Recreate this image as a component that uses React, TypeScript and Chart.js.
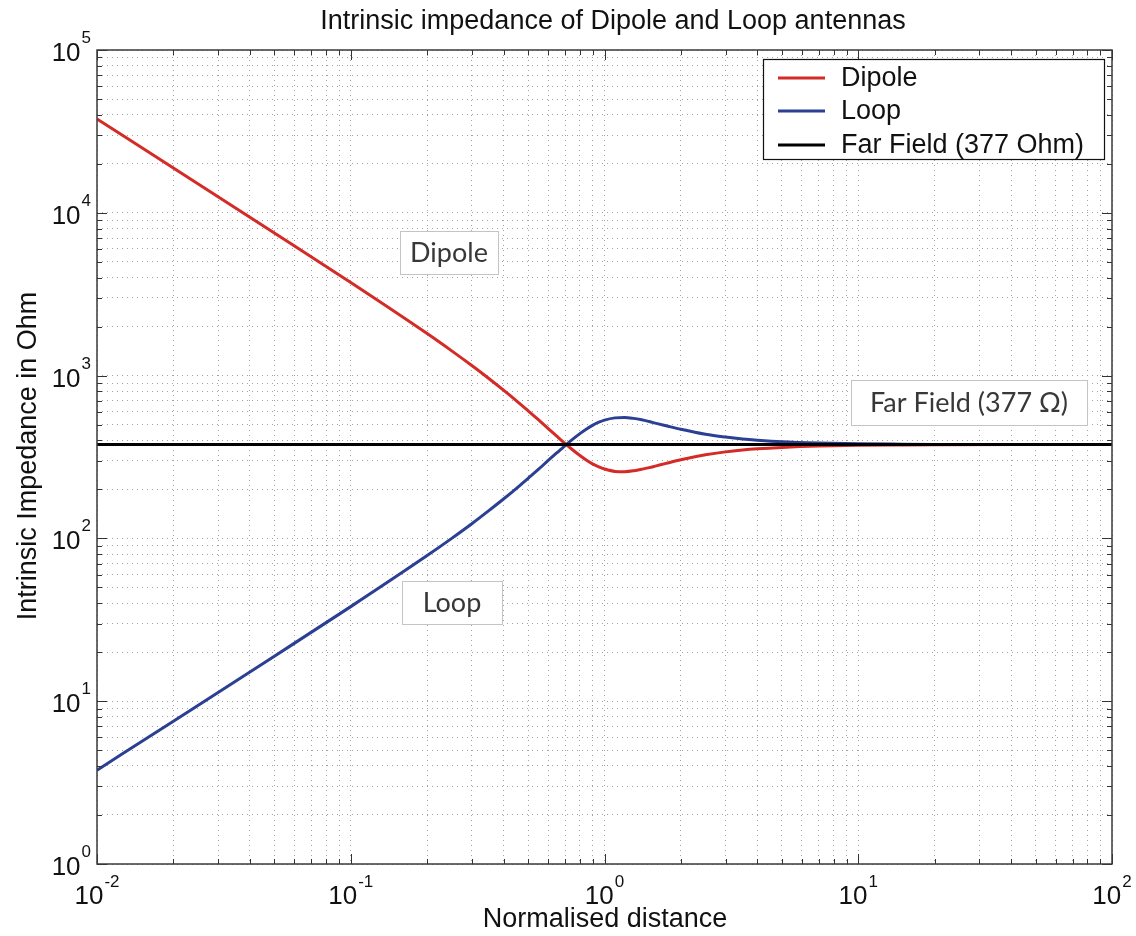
import { useEffect, useRef } from "react";
import { Chart, registerables } from "chart.js";

Chart.register(...registerables);

// ---- data ----
const distance = [
  0.01, 0.02, 0.05, 0.1, 0.2, 0.25, 0.3, 0.35, 0.4, 0.45, 0.5, 0.55, 0.6, 0.65, 0.7, 0.75,
  0.8, 0.85, 0.9, 0.95, 1.0, 1.1, 1.2, 1.3, 1.4, 1.5, 1.6, 1.75, 2, 2.5, 3, 3.5, 4, 5, 7, 10,
  15, 20, 50, 100,
];
const dipoleOhm = [
  37700, 18840, 7520, 3733, 1813, 1419, 1153, 960, 814, 700, 608, 534, 473, 423, 382, 349,
  323, 302, 286, 275, 267, 258, 257, 260, 266, 272, 279, 289, 304, 326, 340, 349, 355, 362,
  369, 373, 375, 376, 377, 377,
];
const loopOhm = [
  3.77, 7.54, 18.9, 38.1, 78.4, 100, 123, 148, 174.5, 203, 234, 266, 301, 336, 372, 407,
  440, 470, 496, 517, 533, 550, 553, 546, 535, 522, 509, 492, 468, 436, 419, 408, 401, 392,
  385, 381, 379, 378, 377, 377,
];
const farFieldX = [0.01, 100];
const farFieldOhm = [377, 377];

const seriesNames = ["Dipole", "Loop", "Far Field (377 Ohm)"];
const seriesColors = ["#d42b27", "#2b3f93", "#000000"];

const xDecades = [0.01, 0.1, 1, 10, 100];
const xExponents = ["-2", "-1", "0", "1", "2"];
const yDecades = [1, 10, 100, 1000, 10000, 100000];
const yExponents = ["0", "1", "2", "3", "4", "5"];
const minorSteps = [1, 2, 3, 4, 5, 6, 7, 8, 9];

const titleText = "Intrinsic impedance of Dipole and Loop antennas";
const xTitle = "Normalised distance";
const yTitle = "Intrinsic Impedance in Ohm";
const annotationTexts = ["Dipole", "Loop", "Far Field (377 \u03A9)"];

// ---- layout / style constants ----
const W = 1136;
const H = 936;
const FONT = '"Liberation Sans", Arial, Helvetica, sans-serif';
const ANNOT_FONT = 'Lato, "Noto Sans", sans-serif';
const annotationBoxes = [
  [400, 231, 98, 43],
  [402, 581, 100, 43],
  [851, 380, 236, 45],
];

function buildTicks(decades: number[]) {
  const out: number[] = [];
  for (let i = 0; i < decades.length - 1; i++) {
    for (const s of minorSteps) out.push(decades[i] * s);
  }
  out.push(decades[decades.length - 1]);
  return out;
}
const xTicks = buildTicks(xDecades);
const yTicks = buildTicks(yDecades);

function isDecade(v: number, decades: number[]) {
  return decades.some((d) => Math.abs(v - d) / d < 1e-6);
}

function drawPow(
  ctx: CanvasRenderingContext2D,
  exp: string,
  x: number,
  y: number,
  align: "center" | "right",
  supRise: number
) {
  const base = `26px ${FONT}`;
  const sup = `17px ${FONT}`;
  ctx.font = base;
  const bw = ctx.measureText("10").width;
  ctx.font = sup;
  const ew = ctx.measureText(exp).width;
  const total = bw + 1 + ew;
  const x0 = align === "center" ? x - total / 2 : x - total;
  ctx.textAlign = "left";
  ctx.textBaseline = "alphabetic";
  ctx.fillStyle = "#111";
  ctx.font = base;
  ctx.fillText("10", x0, y);
  ctx.font = sup;
  ctx.fillText(exp, x0 + bw + 1, y - supRise);
}

const overlayPlugin = {
  id: "overlay",
  afterDatasetsDraw(chart: any) {
    const { ctx, chartArea: a, scales } = chart;
    const xs = scales.x;
    const ys = scales.y;
    ctx.save();

    // annotation text boxes
    annotationTexts.forEach((t, i) => {
      const [bx, by, bw, bh] = annotationBoxes[i];
      ctx.fillStyle = "#ffffff";
      ctx.fillRect(bx, by, bw, bh);
      ctx.strokeStyle = "#c4c4c4";
      ctx.lineWidth = 1;
      ctx.strokeRect(bx + 0.5, by + 0.5, bw, bh);
      ctx.fillStyle = "#383838";
      ctx.font = `27px ${ANNOT_FONT}`;
      ctx.textAlign = "center";
      ctx.textBaseline = "middle";
      ctx.fillText(t, bx + bw / 2, by + bh / 2 + 1);
    });

    // tick marks (inward, on all four sides)
    ctx.strokeStyle = "#333";
    ctx.lineWidth = 1;
    ctx.beginPath();
    for (const v of xTicks) {
      const px = Math.round(xs.getPixelForValue(v)) + 0.5;
      const len = isDecade(v, xDecades) ? 10 : 5;
      ctx.moveTo(px, a.bottom);
      ctx.lineTo(px, a.bottom - len);
      ctx.moveTo(px, a.top);
      ctx.lineTo(px, a.top + len);
    }
    for (const v of yTicks) {
      const py = Math.round(ys.getPixelForValue(v)) + 0.5;
      const len = isDecade(v, yDecades) ? 10 : 5;
      ctx.moveTo(a.left, py);
      ctx.lineTo(a.left + len, py);
      ctx.moveTo(a.right, py);
      ctx.lineTo(a.right - len, py);
    }
    ctx.stroke();

    // axes box
    ctx.strokeStyle = "#3a3a3a";
    ctx.lineWidth = 1.5;
    ctx.strokeRect(a.left, a.top, a.right - a.left, a.bottom - a.top);

    // legend
    const lx = 763, ly = 59, lw = 341, lh = 100;
    ctx.fillStyle = "#fff";
    ctx.fillRect(lx, ly, lw, lh);
    ctx.strokeStyle = "#111";
    ctx.lineWidth = 1.2;
    ctx.strokeRect(lx + 0.5, ly + 0.5, lw, lh);
    const rows = [78, 111, 145];
    seriesNames.forEach((name, i) => {
      ctx.strokeStyle = seriesColors[i];
      ctx.lineWidth = 3;
      ctx.beginPath();
      ctx.moveTo(778, rows[i]);
      ctx.lineTo(825, rows[i]);
      ctx.stroke();
      ctx.fillStyle = "#111";
      ctx.font = `27px ${FONT}`;
      ctx.textAlign = "left";
      ctx.textBaseline = "middle";
      ctx.fillText(name, 841, rows[i] + 1);
    });

    ctx.restore();
  },
  afterDraw(chart: any) {
    const { ctx, chartArea: a, scales } = chart;
    const xs = scales.x;
    const ys = scales.y;
    ctx.save();

    xDecades.forEach((v, i) => {
      drawPow(ctx, xExponents[i], xs.getPixelForValue(v), a.bottom + 40, "center", 17);
    });
    yDecades.forEach((v, i) => {
      drawPow(ctx, yExponents[i], a.left - 6, ys.getPixelForValue(v) + 11, "right", 18);
    });

    ctx.fillStyle = "#111";
    ctx.textAlign = "center";
    ctx.textBaseline = "alphabetic";
    ctx.font = `27px ${FONT}`;
    ctx.fillText(titleText, 613, 29);
    ctx.fillText(xTitle, 605, 927);

    ctx.translate(36, 456);
    ctx.rotate(-Math.PI / 2);
    ctx.fillText(yTitle, 0, 0);
    ctx.restore();
  },
};

export default function App() {
  const canvasRef = useRef<HTMLCanvasElement | null>(null);

  useEffect(() => {
    const canvas = canvasRef.current;
    if (!canvas) return;
    const toPoints = (xv: number[], yv: number[]) => xv.map((x, i) => ({ x, y: yv[i] }));

    const chart = new Chart(canvas, {
      type: "line",
      data: {
        datasets: [
          {
            label: seriesNames[2],
            data: toPoints(farFieldX, farFieldOhm),
            borderColor: seriesColors[2],
            borderWidth: 3,
            pointRadius: 0,
            order: 0,
          },
          {
            label: seriesNames[1],
            data: toPoints(distance, loopOhm),
            borderColor: seriesColors[1],
            borderWidth: 3,
            pointRadius: 0,
            cubicInterpolationMode: "monotone",
            order: 1,
          },
          {
            label: seriesNames[0],
            data: toPoints(distance, dipoleOhm),
            borderColor: seriesColors[0],
            borderWidth: 3,
            pointRadius: 0,
            cubicInterpolationMode: "monotone",
            order: 2,
          },
        ],
      },
      options: {
        animation: false,
        responsive: false,
        layout: { padding: { left: 97, right: W - 1112, top: 50, bottom: H - 864 } },
        plugins: {
          legend: { display: false },
          tooltip: { enabled: false },
          title: { display: false },
        },
        scales: {
          x: {
            type: "logarithmic",
            min: 0.01,
            max: 100,
            afterBuildTicks: (s: any) => {
              s.ticks = xTicks.map((v) => ({ value: v }));
            },
            ticks: { display: false },
            grid: { color: "#a2a2a2", lineWidth: 1, drawTicks: false, tickLength: 0 },
            border: { display: false, dash: [1, 4] },
          },
          y: {
            type: "logarithmic",
            min: 1,
            max: 100000,
            afterBuildTicks: (s: any) => {
              s.ticks = yTicks.map((v) => ({ value: v }));
            },
            ticks: { display: false },
            grid: { color: "#a2a2a2", lineWidth: 1, drawTicks: false, tickLength: 0 },
            border: { display: false, dash: [1, 4] },
          },
        },
      },
      plugins: [overlayPlugin],
    });
    return () => chart.destroy();
  }, []);

  return (
    <div style={{ position: "absolute", left: 0, top: 0, width: W, height: H, background: "#fff" }}>
      <canvas ref={canvasRef} width={W} height={H} style={{ display: "block" }} />
    </div>
  );
}
